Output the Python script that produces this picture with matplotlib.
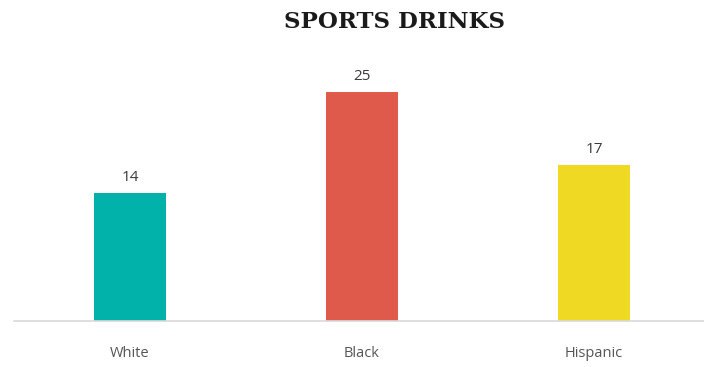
import matplotlib.pyplot as plt

groups = ["White", "Black", "Hispanic"]
values = [14, 25, 17]
colors = ["#00B2A9", "#E05A4B", "#EFD923"]

fig = plt.figure(figsize=(7.04, 3.67), dpi=100)
ax = fig.add_axes([14 / 704, 46 / 367, 690 / 704, 271 / 367])

x = range(len(groups))
bars = ax.bar(x, values, width=0.31, color=colors)
for b, v in zip(bars, values):
    ax.text(b.get_x() + b.get_width() / 2, v + 0.9, str(v), ha="center",
            va="bottom", fontsize=11, color="#3a3a3a", family="Open Sans")

ax.set_xlim(-0.5, 2.474)
ax.set_ylim(0, 29.6)
ax.set_xticks(list(x))
ax.set_xticklabels(groups, fontsize=10.5, color="#555555", family="Open Sans")
ax.tick_params(axis="x", length=0, pad=18)
ax.set_yticks([])
for s in ["top", "right", "left"]:
    ax.spines[s].set_visible(False)
ax.spines["bottom"].set_color("#d9d9d9")
ax.spines["bottom"].set_linewidth(1.2)

fig.text(395 / 704, 1 - 22 / 367, "SPORTS DRINKS", ha="center", va="center",
         fontsize=16.5, fontweight="bold", family="DejaVu Serif", color="#1a1a1a")

fig.savefig("out.png", dpi=100)
